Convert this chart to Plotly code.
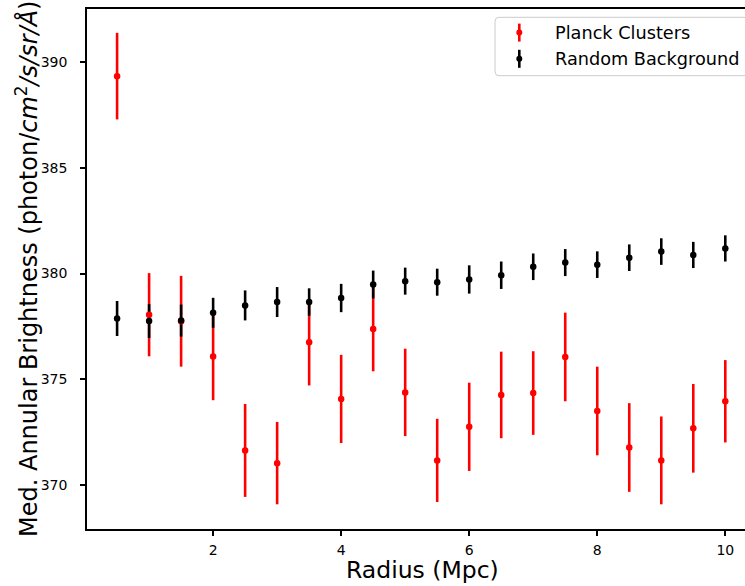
import plotly.graph_objects as go

# ---- data ----
radius = [0.5, 1.0, 1.5, 2.0, 2.5, 3.0, 3.5, 4.0, 4.5, 5.0,
          5.5, 6.0, 6.5, 7.0, 7.5, 8.0, 8.5, 9.0, 9.5, 10.0]
planck_y = [389.35, 378.05, 377.74, 376.07, 371.62, 371.02, 376.75, 374.06, 377.37, 374.37,
            371.15, 372.74, 374.25, 374.34, 376.05, 373.49, 371.76, 371.15, 372.67, 373.95]
planck_err = [2.05, 1.97, 2.15, 2.07, 2.20, 1.95, 2.05, 2.09, 2.00, 2.07,
              1.97, 2.09, 2.05, 1.98, 2.10, 2.10, 2.10, 2.08, 2.10, 1.95]
random_y = [377.87, 377.75, 377.77, 378.14, 378.49, 378.65, 378.65, 378.84, 379.48, 379.64,
            379.59, 379.72, 379.92, 380.32, 380.52, 380.42, 380.75, 381.04, 380.88, 381.19]
random_err = [0.83, 0.80, 0.76, 0.71, 0.71, 0.71, 0.65, 0.67, 0.66, 0.64,
              0.64, 0.67, 0.65, 0.63, 0.64, 0.63, 0.63, 0.63, 0.62, 0.62]
series_names = ["Planck Clusters", "Random Background"]
series_colors = ["#ff0000", "#000000"]
x_ticks = [2, 4, 6, 8, 10]
y_ticks = [370, 375, 380, 385, 390]

FONT = "DejaVu Sans"
W, H = 745, 586
L, R, T, B = 87, 745, 9, 529
PW, PH = R - L, B - T


def px(xp):
    return (xp - L) / PW


def py(yp):
    return (B - yp) / PH


fig = go.Figure()
series = [(planck_y, planck_err), (random_y, random_err)]
# error bars first (both series), then markers, like matplotlib's z-order
for (yv, ev), col, name in zip(series, series_colors, series_names):
    fig.add_trace(go.Scatter(
        x=radius, y=yv, mode="markers", name=name, showlegend=False,
        marker=dict(color=col, size=6, opacity=0),
        error_y=dict(type="data", array=ev, visible=True, color=col,
                     thickness=2.6, width=0),
        hoverinfo="skip"))
for (yv, ev), col, name in zip(series, series_colors, series_names):
    fig.add_trace(go.Scatter(
        x=radius, y=yv, mode="markers", name=name, showlegend=False,
        marker=dict(color=col, size=6.5, line=dict(width=0))))

# ---- manual legend (matplotlib style) ----
x0, x1 = px(495), px(748)
y0, y1 = py(75.7), py(17.3)
rx, ry = 4 / PW, 4 / PH
path = (f"M {x0+rx},{y0} L {x1-rx},{y0} Q {x1},{y0} {x1},{y0+ry} "
        f"L {x1},{y1-ry} Q {x1},{y1} {x1-rx},{y1} L {x0+rx},{y1} "
        f"Q {x0},{y1} {x0},{y1-ry} L {x0},{y0+ry} Q {x0},{y0} {x0+rx},{y0} Z")
shapes = [dict(type="path", xref="paper", yref="paper", path=path,
               fillcolor="rgba(255,255,255,0.8)", line=dict(color="#cccccc", width=1))]
annotations = []
rows = [py(32.6), py(58.8)]
sym_x = px(519.3)
for name, col, yc in zip(series_names, series_colors, rows):
    shapes.append(dict(type="line", xref="paper", yref="paper", x0=sym_x, x1=sym_x,
                       ysizemode="pixel", yanchor=yc, y0=-9, y1=9,
                       line=dict(color=col, width=2.6)))
    shapes.append(dict(type="circle", xref="paper", yref="paper",
                       xsizemode="pixel", xanchor=sym_x, x0=-3, x1=3,
                       ysizemode="pixel", yanchor=yc, y0=-3, y1=3,
                       fillcolor=col, line=dict(width=0)))
    annotations.append(dict(xref="paper", yref="paper", x=px(553), y=yc,
                            xanchor="left", yanchor="middle", showarrow=False,
                            text=name, font=dict(family=FONT, size=17.7, color="black")))

# axis titles
annotations.append(dict(xref="paper", yref="paper", x=px(422), y=0, xanchor="center",
                        yanchor="top", yshift=-25, showarrow=False, text="Radius (Mpc)",
                        font=dict(family=FONT, size=23.5, color="black")))
annotations.append(dict(xref="paper", yref="paper", x=px(27), y=0.5, xanchor="center",
                        yanchor="middle", showarrow=False, textangle=-90,
                        text="Med. Annular Brightness (photon/<i>cm</i><sup>2</sup><i>/s/sr/Å</i>)",
                        font=dict(family=FONT, size=24, color="black")))

fig.update_layout(
    width=W, height=H,
    margin=dict(l=L, r=W - R, t=T, b=H - B, pad=0, autoexpand=False),
    paper_bgcolor="white", plot_bgcolor="white",
    font=dict(family=FONT, color="black"),
    shapes=shapes, annotations=annotations, showlegend=False,
)
fig.update_xaxes(range=[0.03, (R - 85.3) / 64.0], tickvals=x_ticks,
                 ticktext=[str(v) for v in x_ticks],
                 showgrid=False, zeroline=False, showline=True, linecolor="black",
                 linewidth=1.5, mirror=True, ticks="outside", ticklen=5, tickwidth=1.5,
                 tickcolor="black", tickfont=dict(family=FONT, size=14, color="black"),
                 ticklabelstandoff=2)
fig.update_yaxes(range=[367.9, 392.53], tickvals=y_ticks,
                 ticktext=[str(v) for v in y_ticks],
                 showgrid=False, zeroline=False, showline=True, linecolor="black",
                 linewidth=1.5, mirror=False, ticks="outside", ticklen=5, tickwidth=1.5,
                 tickcolor="black", tickfont=dict(family=FONT, size=14, color="black"),
                 ticklabelstandoff=10)

fig.write_html("out.html")
